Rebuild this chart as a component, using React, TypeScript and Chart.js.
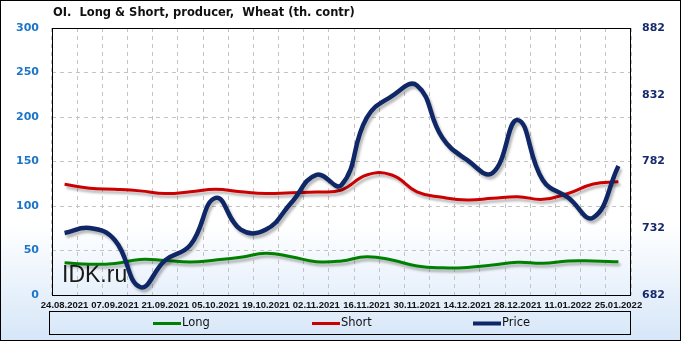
import React, { useEffect, useRef } from 'react';
import { Chart, registerables } from 'chart.js';

Chart.register(...registerables);

const titleText = 'OI.  Long & Short, producer,  Wheat (th. contr)';
const watermark = 'IDK.ru';

const dates = [
  '24.08.2021', '31.08.2021', '07.09.2021', '14.09.2021', '21.09.2021', '28.09.2021',
  '05.10.2021', '12.10.2021', '19.10.2021', '26.10.2021', '02.11.2021', '09.11.2021',
  '16.11.2021', '23.11.2021', '30.11.2021', '07.12.2021', '14.12.2021', '21.12.2021',
  '28.12.2021', '04.01.2022', '11.01.2022', '18.01.2022', '25.01.2022',
];

const longValues = [36.3, 34.5, 35.4, 40, 38.8, 37, 39.3, 42.4, 46.9, 43, 37.4, 38.2, 43, 39.3, 32.6, 30.5, 31, 33.7, 36.7, 35.6, 38.2, 38.2, 37.4];
const shortValues = [124.4, 120, 118.8, 117, 114, 116, 118.8, 116, 114, 115, 115.7, 118, 134.8, 134.8, 116, 109.8, 106.7, 108.6, 110.5, 107.5, 114, 124.7, 127.3];
const priceValues = [728.4, 732.2, 723, 688, 708, 719.5, 754.7, 731, 731, 751, 772, 764.4, 814.6, 831, 839, 800, 783, 773.4, 813, 768, 755, 740, 778.6];

const leftTicks = [0, 50, 100, 150, 200, 250, 300];
const rightTicks = [682, 732, 782, 832, 882];

const seriesNames = ['Long', 'Short', 'Price'];
const seriesColors = ['#008000', '#cc0000', '#0f2766'];

const framePlugin = {
  id: 'frame',
  beforeDraw(chart: any) {
    const { ctx, width, height } = chart;
    ctx.save();
    const g = ctx.createLinearGradient(0, 0, 0, height);
    g.addColorStop(0, '#ffffff');
    g.addColorStop(0.66, '#ffffff');
    g.addColorStop(1, '#d6e6f8');
    ctx.fillStyle = g;
    ctx.fillRect(0, 0, width, height);
    ctx.strokeStyle = '#000';
    ctx.lineWidth = 1;
    ctx.strokeRect(0.5, 0.5, width - 1, height - 1);
    ctx.fillStyle = '#111';
    ctx.font = 'bold 11.5px "DejaVu Sans"';
    ctx.textBaseline = 'middle';
    ctx.textAlign = 'left';
    ctx.fillText(titleText, 53, 13);
    ctx.restore();
  },
  beforeDatasetsDraw(chart: any) {
    const { ctx, chartArea } = chart;
    ctx.save();
    ctx.fillStyle = '#1a1a1a';
    ctx.font = '23px "Liberation Sans"';
    ctx.textBaseline = 'alphabetic';
    ctx.textAlign = 'left';
    ctx.fillText(watermark, 62, 282);
    ctx.strokeStyle = '#000';
    ctx.lineWidth = 1;
    ctx.strokeRect(
      Math.round(chartArea.left) + 0.5,
      Math.round(chartArea.top) + 0.5,
      Math.round(chartArea.right - chartArea.left) - 1,
      Math.round(chartArea.bottom - chartArea.top)
    );
    ctx.restore();
  },
  afterDraw(chart: any) {
    const { ctx } = chart;
    ctx.save();
    ctx.strokeStyle = '#000';
    ctx.lineWidth = 1;
    ctx.strokeRect(49.5, 311.5, 581, 23);
    const starts = [153, 312, 473];
    ctx.font = '11.5px "DejaVu Sans"';
    ctx.textBaseline = 'middle';
    ctx.textAlign = 'left';
    seriesNames.forEach((name, i) => {
      ctx.strokeStyle = seriesColors[i];
      ctx.lineWidth = i === 2 ? 4 : 3;
      ctx.beginPath();
      ctx.moveTo(starts[i], 323.5);
      ctx.lineTo(starts[i] + 28, 323.5);
      ctx.stroke();
      ctx.fillStyle = '#111';
      ctx.fillText(name, starts[i] + 29, 323.5);
    });
    ctx.restore();
  },
};

const shadowPlugin = {
  id: 'lineShadow',
  beforeDatasetDraw(chart: any) {
    const ctx = chart.ctx;
    ctx.save();
    ctx.shadowColor = 'rgba(0,0,0,0.28)';
    ctx.shadowBlur = 2.5;
    ctx.shadowOffsetX = 2;
    ctx.shadowOffsetY = 3;
  },
  afterDatasetDraw(chart: any) {
    chart.ctx.restore();
  },
};

export default function App() {
  const ref = useRef<HTMLCanvasElement | null>(null);

  useEffect(() => {
    document.body.style.margin = '0';
    const canvas = ref.current;
    if (!canvas) return;
    const gridColor = '#c4c4c4';
    const chart = new Chart(canvas, {
      type: 'line',
      data: {
        labels: dates,
        datasets: [
          {
            label: seriesNames[0],
            data: longValues,
            yAxisID: 'y',
            borderColor: seriesColors[0],
            borderWidth: 3,
            pointRadius: 0,
            tension: 0.45,
            fill: false,
            order: 3,
          },
          {
            label: seriesNames[1],
            data: shortValues,
            yAxisID: 'y',
            borderColor: seriesColors[1],
            borderWidth: 3,
            pointRadius: 0,
            tension: 0.45,
            fill: false,
            order: 2,
          },
          {
            label: seriesNames[2],
            data: priceValues,
            yAxisID: 'y1',
            borderColor: seriesColors[2],
            borderWidth: 4.5,
            pointRadius: 0,
            tension: 0.45,
            fill: false,
            order: 1,
          },
        ],
      },
      plugins: [framePlugin, shadowPlugin],
      options: {
        responsive: false,
        animation: false,
        events: [],
        layout: { padding: { top: 28, left: 0, right: 0, bottom: 0 } },
        plugins: {
          legend: { display: false },
          title: { display: false },
          tooltip: { enabled: false },
        },
        scales: {
          x: {
            type: 'category',
            offset: true,
            grid: { offset: true, color: gridColor, drawTicks: false, lineWidth: 1 },
            border: { display: false, dash: [4, 4] },
            ticks: {
              autoSkip: false,
              maxRotation: 0,
              minRotation: 0,
              padding: 5,
              color: '#111',
              font: { family: 'Liberation Sans', size: 9.5, weight: 'bold' },
              callback: (_v: any, i: number) => (i % 2 === 0 ? dates[i] : ''),
            },
            afterFit: (s: any) => { s.height = 46; },
          },
          y: {
            position: 'left',
            min: 0,
            max: 300,
            afterBuildTicks: (s: any) => { s.ticks = leftTicks.map((v) => ({ value: v })); },
            grid: { color: gridColor, drawTicks: false },
            border: { display: false, dash: [4, 4] },
            ticks: {
              padding: 13,
              color: '#1c75c8',
              font: { family: 'DejaVu Sans', size: 11, weight: 'bold' },
            },
            afterFit: (s: any) => { s.width = 52; },
          },
          y1: {
            position: 'right',
            min: 682,
            max: 882,
            afterBuildTicks: (s: any) => { s.ticks = rightTicks.map((v) => ({ value: v })); },
            grid: { display: false, drawTicks: false },
            border: { display: false },
            ticks: {
              padding: 11,
              color: '#162a6b',
              font: { family: 'DejaVu Sans', size: 11, weight: 'bold' },
            },
            afterFit: (s: any) => { s.width = 50; },
          },
        },
      },
    } as any);
    return () => chart.destroy();
  }, []);

  return (
    <div style={{ width: 681, height: 341 }}>
      <canvas ref={ref} width={681} height={341} style={{ display: 'block', width: 681, height: 341 }} />
    </div>
  );
}
